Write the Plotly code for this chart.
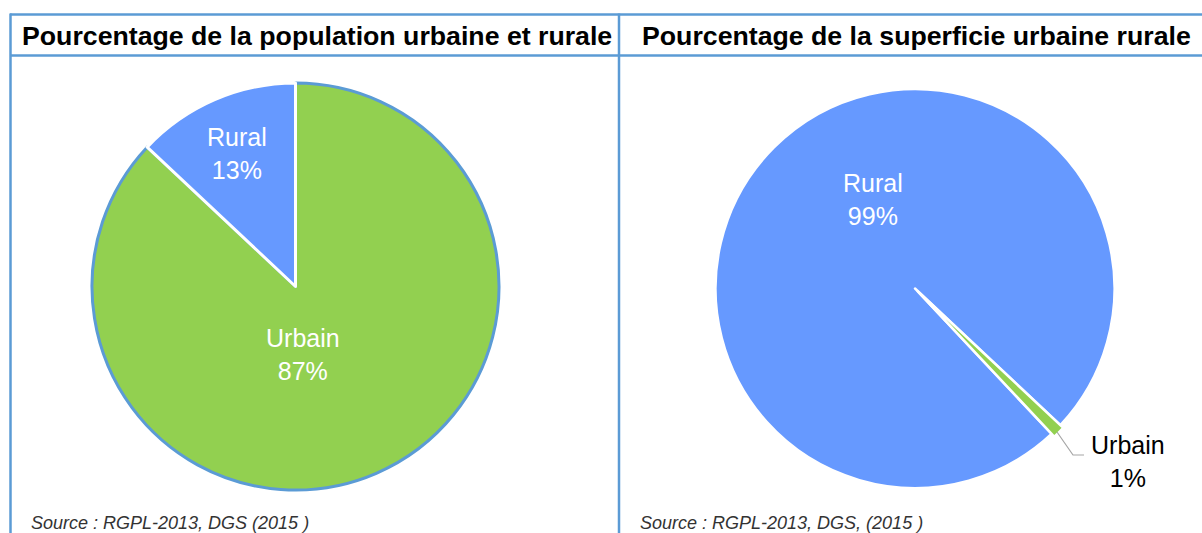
import plotly.graph_objects as go

W, H = 1202, 533

# ---- data ----
pop_labels = ["Urbain", "Rural"]
pop_values = [87, 13]
sup_labels = ["Rural", "Urbain"]
sup_values = [99, 1]
titles = ["Pourcentage de la population urbaine et rurale",
          "Pourcentage de la superficie urbaine rurale"]
sources = ["Source : RGPL-2013, DGS (2015 )", "Source : RGPL-2013, DGS, (2015 )"]

GREEN = "#92D050"
BLUE = "#6699FF"
EDGE = "#5B9BD5"
FONT = "Arial, Liberation Sans, sans-serif"


def px_x(x):
    return x / W


def px_y(y):
    return 1 - y / H


def dom(cx, cy, r):
    return dict(x=[px_x(cx - r), px_x(cx + r)], y=[px_y(cy + r), px_y(cy - r)])


fig = go.Figure()

# Pie 1: population
fig.add_trace(go.Pie(
    labels=pop_labels, values=pop_values, sort=False, direction="clockwise",
    rotation=0, textinfo="none", hoverinfo="label+percent",
    marker=dict(colors=[GREEN, BLUE], line=dict(color=[EDGE, "white"], width=3)),
    domain=dom(295.5, 286.5, 203.5), showlegend=False,
))

# Pie 2: superficie
pull = 0.02
fig.add_trace(go.Pie(
    labels=sup_labels, values=sup_values, sort=False, direction="clockwise",
    rotation=136.8, textinfo="none", hoverinfo="label+percent",
    pull=[0, pull],
    marker=dict(colors=[BLUE, GREEN], line=dict(color="white", width=2.5)),
    domain=dom(915, 288.5, 199.5 * (1 + pull)), showlegend=False,
))

shapes = []
line_style = dict(color=EDGE, width=2.5)
# table lines
shapes.append(dict(type="line", xref="paper", yref="paper", x0=px_x(10), x1=1.01,
                   y0=px_y(14.5), y1=px_y(14.5), line=line_style))
shapes.append(dict(type="line", xref="paper", yref="paper", x0=px_x(10), x1=1.01,
                   y0=px_y(55.5), y1=px_y(55.5), line=line_style))
shapes.append(dict(type="line", xref="paper", yref="paper", x0=px_x(10.5), x1=px_x(10.5),
                   y0=px_y(13.5), y1=-0.01, line=line_style))
shapes.append(dict(type="line", xref="paper", yref="paper", x0=px_x(619), x1=px_x(619),
                   y0=px_y(13.5), y1=-0.01, line=line_style))
# leader line for Urbain 1%
shapes.append(dict(type="path", xref="paper", yref="paper",
                   path=f"M {px_x(1057)} {px_y(432)} L {px_x(1073)} {px_y(455)} L {px_x(1084)} {px_y(455)}",
                   line=dict(color="#A6A6A6", width=1.2)))

annotations = []
# titles
annotations.append(dict(text=f"<b>{titles[0]}</b>", x=px_x(317), y=px_y(36), xref="paper", yref="paper",
                        showarrow=False, font=dict(family=FONT, size=26.7, color="black"),
                        xanchor="center", yanchor="middle"))
annotations.append(dict(text=f"<b>{titles[1]}</b>", x=px_x(916), y=px_y(36), xref="paper", yref="paper",
                        showarrow=False, font=dict(family=FONT, size=26.7, color="black"),
                        xanchor="center", yanchor="middle"))
# sources
annotations.append(dict(text=f"<i>{sources[0]}</i>", x=px_x(29), y=px_y(522.5), xref="paper", yref="paper",
                        showarrow=False, font=dict(family=FONT, size=18, color="#333333"),
                        xanchor="left", yanchor="middle"))
annotations.append(dict(text=f"<i>{sources[1]}</i>", x=px_x(638), y=px_y(522.5), xref="paper", yref="paper",
                        showarrow=False, font=dict(family=FONT, size=18, color="#333333"),
                        xanchor="left", yanchor="middle"))


def lab(name, val, x, y, color):
    annotations.append(dict(text=f"{name}<br>{val}%", x=px_x(x), y=px_y(y), xref="paper", yref="paper",
                            showarrow=False, align="center",
                            font=dict(family=FONT, size=25, color=color),
                            xanchor="center", yanchor="middle"))


lab(pop_labels[1], pop_values[1], 237, 154, "white")
lab(pop_labels[0], pop_values[0], 303, 354, "white")
lab(sup_labels[0], sup_values[0], 873, 199, "white")
lab(sup_labels[1], sup_values[1], 1128, 461, "black")

fig.update_layout(
    width=W, height=H, margin=dict(l=0, r=0, t=0, b=0),
    paper_bgcolor="white", plot_bgcolor="white",
    shapes=shapes, annotations=annotations,
)

fig.write_html("out.html", config={"displayModeBar": False},
               post_script="document.body.style.margin='0px';document.body.style.overflow='hidden';")
